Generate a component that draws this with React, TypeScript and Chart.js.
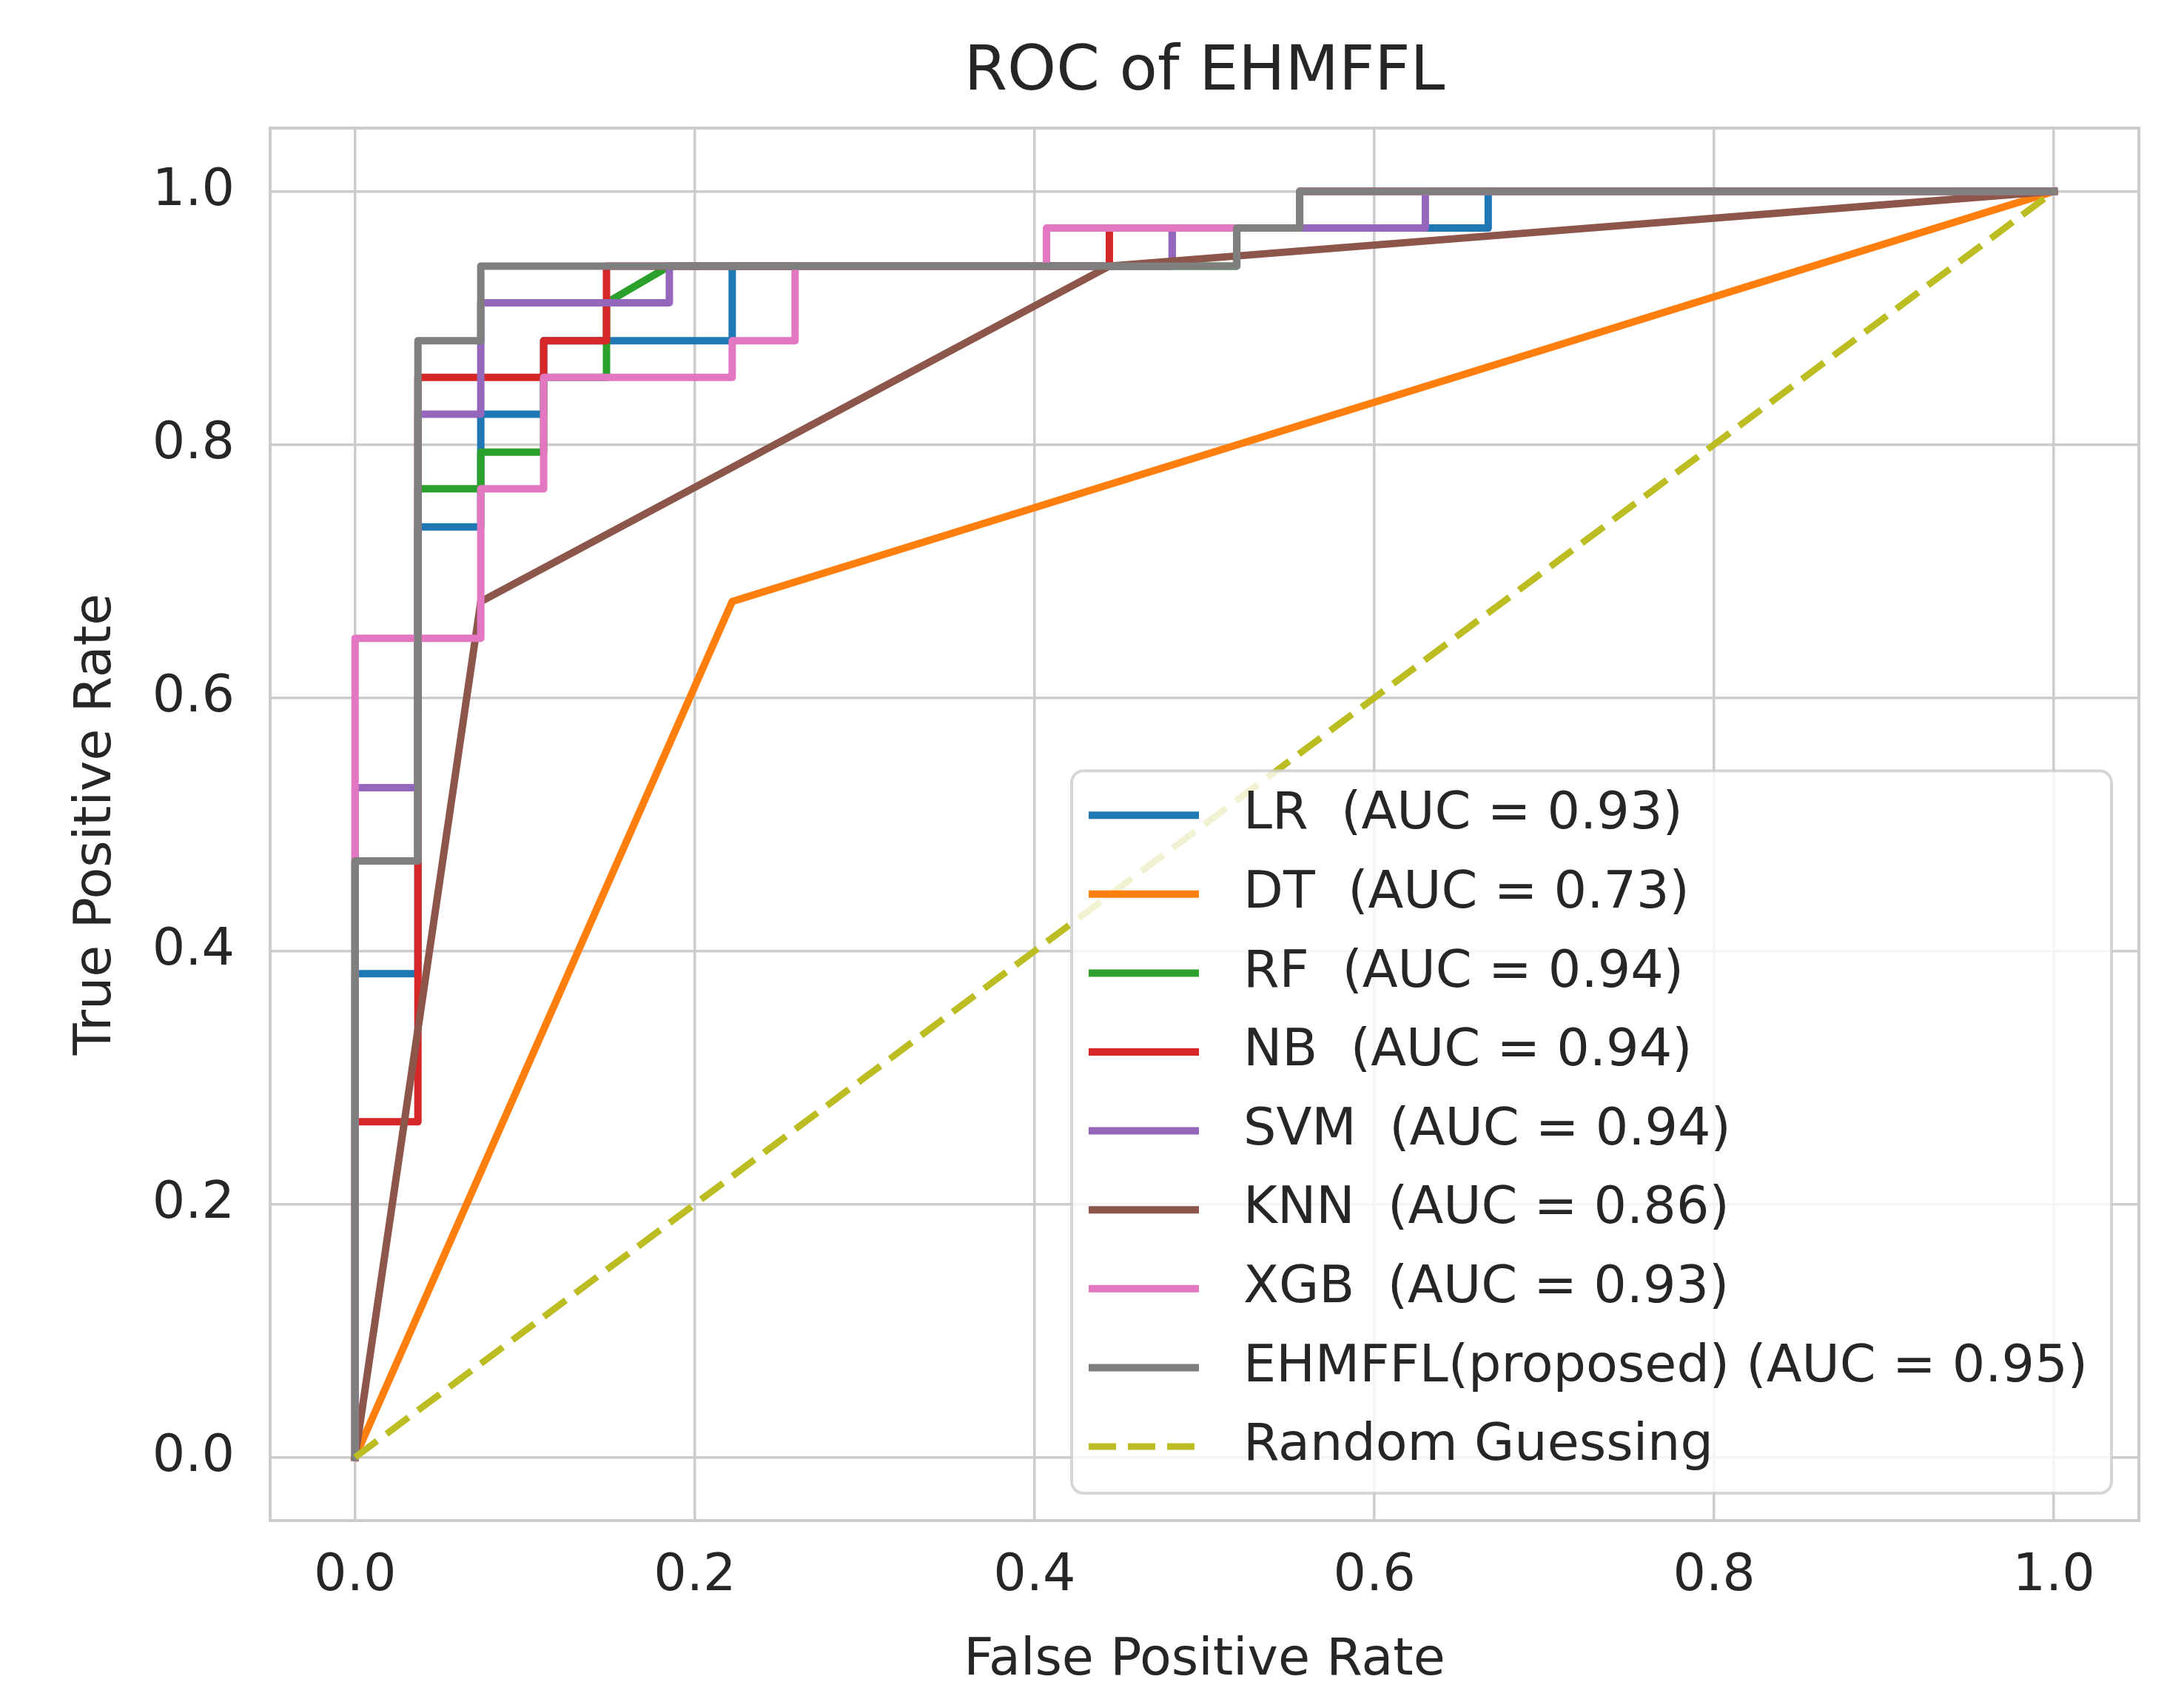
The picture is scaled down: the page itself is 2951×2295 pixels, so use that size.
import { useEffect, useRef } from "react";
import { Chart, registerables } from "chart.js";

Chart.register(...registerables);

// tick labels on both axes
const xTicks = [0, 0.2, 0.4, 0.6, 0.8, 1.0];
const yTicks = [0, 0.2, 0.4, 0.6, 0.8, 1.0];

// ROC points (false positive rate / true positive rate)
const lrFpr = [0, 0, 0.037, 0.037, 0.074, 0.074, 0.111, 0.111, 0.222, 0.222, 0.481, 0.481, 0.667, 0.667, 1.0];
const lrTpr = [0, 0.382, 0.382, 0.735, 0.735, 0.824, 0.824, 0.882, 0.882, 0.941, 0.941, 0.971, 0.971, 1.0, 1.0];

const dtFpr = [0, 0.222, 1.0];
const dtTpr = [0, 0.676, 1.0];

const rfFpr = [0, 0, 0.037, 0.037, 0.074, 0.074, 0.111, 0.111, 0.148, 0.148, 0.185, 0.519, 0.519, 0.556, 0.556, 1.0];
const rfTpr = [0, 0.471, 0.471, 0.765, 0.765, 0.794, 0.794, 0.853, 0.853, 0.912, 0.941, 0.941, 0.971, 0.971, 1.0, 1.0];

const nbFpr = [0, 0, 0.037, 0.037, 0.111, 0.111, 0.148, 0.148, 0.444, 0.444, 0.556, 0.556, 1.0];
const nbTpr = [0, 0.265, 0.265, 0.853, 0.853, 0.882, 0.882, 0.941, 0.941, 0.971, 0.971, 1.0, 1.0];

const svmFpr = [0, 0, 0.037, 0.037, 0.074, 0.074, 0.185, 0.185, 0.481, 0.481, 0.63, 0.63, 1.0];
const svmTpr = [0, 0.529, 0.529, 0.824, 0.824, 0.912, 0.912, 0.941, 0.941, 0.971, 0.971, 1.0, 1.0];

const knnFpr = [0, 0.074, 0.444, 1.0];
const knnTpr = [0, 0.676, 0.941, 1.0];

const xgbFpr = [0, 0, 0.074, 0.074, 0.111, 0.111, 0.222, 0.222, 0.259, 0.259, 0.407, 0.407, 0.556, 0.556, 1.0];
const xgbTpr = [0, 0.647, 0.647, 0.765, 0.765, 0.853, 0.853, 0.882, 0.882, 0.941, 0.941, 0.971, 0.971, 1.0, 1.0];

const ehmFpr = [0, 0, 0.037, 0.037, 0.074, 0.074, 0.519, 0.519, 0.556, 0.556, 1.0];
const ehmTpr = [0, 0.471, 0.471, 0.882, 0.882, 0.941, 0.941, 0.971, 0.971, 1.0, 1.0];

const randFpr = [0, 1.0];
const randTpr = [0, 1.0];

const seriesNames = [
  "LR  (AUC = 0.93)",
  "DT  (AUC = 0.73)",
  "RF  (AUC = 0.94)",
  "NB  (AUC = 0.94)",
  "SVM  (AUC = 0.94)",
  "KNN  (AUC = 0.86)",
  "XGB  (AUC = 0.93)",
  "EHMFFL(proposed) (AUC = 0.95)",
  "Random Guessing",
];
const seriesFpr = [lrFpr, dtFpr, rfFpr, nbFpr, svmFpr, knnFpr, xgbFpr, ehmFpr, randFpr];
const seriesTpr = [lrTpr, dtTpr, rfTpr, nbTpr, svmTpr, knnTpr, xgbTpr, ehmTpr, randTpr];

const colors = ["#1f77b4", "#ff7f0e", "#2ca02c", "#d62728", "#9467bd", "#8c564b", "#e377c2", "#7f7f7f", "#bcbd22"];

const FONT = '"DejaVu Sans", sans-serif';
const TEXT = "#262626";
const GRID = "#cccccc";

// full box around the plot area (matplotlib style spines)
const framePlugin = {
  id: "frame",
  beforeDatasetsDraw(chart: any) {
    const { ctx, chartArea } = chart;
    ctx.save();
    ctx.strokeStyle = GRID;
    ctx.lineWidth = 4;
    ctx.strokeRect(chartArea.left, chartArea.top, chartArea.right - chartArea.left, chartArea.bottom - chartArea.top);
    ctx.restore();
  },
};

// legend in the lower right corner of the plot, drawn over the lines
const legendPlugin = {
  id: "rocLegend",
  afterDraw(chart: any) {
    const { ctx, chartArea } = chart;
    const datasets = chart.data.datasets;
    ctx.save();
    ctx.font = `70px ${FONT}`;
    const maxW = Math.max(...datasets.map((d: any) => ctx.measureText(d.label).width));
    const rowGap = 106.6;
    const width = 232 + maxW + 32;
    const height = 60 + rowGap * (datasets.length - 1) + 63;
    const right = chartArea.right - 37;
    const bottom = chartArea.bottom - 37;
    const left = right - width;
    const top = bottom - height;

    ctx.beginPath();
    ctx.roundRect(left, top, width, height, 16);
    ctx.fillStyle = "rgba(255,255,255,0.8)";
    ctx.fill();
    ctx.lineWidth = 4;
    ctx.strokeStyle = "rgba(204,204,204,0.8)";
    ctx.stroke();

    ctx.textBaseline = "middle";
    ctx.textAlign = "left";
    datasets.forEach((d: any, i: number) => {
      const y = top + 60 + i * rowGap;
      ctx.beginPath();
      ctx.setLineDash(d.borderDash || []);
      ctx.lineWidth = d.borderWidth;
      ctx.strokeStyle = d.borderColor;
      ctx.lineCap = "butt";
      ctx.moveTo(left + 23, y);
      ctx.lineTo(left + 172, y);
      ctx.stroke();
      ctx.setLineDash([]);
      ctx.fillStyle = TEXT;
      ctx.fillText(d.label, left + 232, y);
    });
    ctx.restore();
  },
};

export default function App() {
  const canvasRef = useRef<HTMLCanvasElement>(null);
  const chartRef = useRef<Chart | null>(null);

  useEffect(() => {
    if (!canvasRef.current) return;
    const n = seriesNames.length;
    const datasets = seriesNames.map((name, i) => ({
      label: name,
      data: seriesFpr[i].map((x, j) => ({ x, y: seriesTpr[i][j] })),
      borderColor: colors[i],
      backgroundColor: colors[i],
      borderWidth: i === n - 1 ? 9 : 10,
      borderDash: i === n - 1 ? [37, 16] : [],
      borderJoinStyle: "round" as const,
      borderCapStyle: i === n - 1 ? ("butt" as const) : ("square" as const),
      pointRadius: 0,
      tension: 0,
      fill: false,
      // later series are drawn on top, as in the original
      order: n - i,
    }));

    chartRef.current = new Chart(canvasRef.current, {
      type: "line",
      data: { datasets },
      options: {
        animation: false,
        responsive: true,
        maintainAspectRatio: false,
        devicePixelRatio: 1,
        layout: { padding: { top: 0, right: 61, bottom: 0, left: 0 } },
        plugins: {
          legend: { display: false },
          tooltip: { enabled: false },
          title: {
            display: true,
            fullSize: false,
            text: "ROC of EHMFFL",
            color: TEXT,
            font: { family: FONT, size: 84, weight: "normal" },
            padding: { top: 48.6, bottom: 23.6 },
          },
        },
        scales: {
          x: {
            type: "linear",
            min: -0.05,
            max: 1.05,
            afterBuildTicks: (scale: any) => {
              scale.ticks = xTicks.map((v) => ({ value: v }));
            },
            afterFit: (scale: any) => {
              scale.height = 241;
            },
            grid: { color: GRID, lineWidth: 3.5, drawTicks: false },
            border: { display: false },
            ticks: {
              color: TEXT,
              padding: 34,
              font: { family: FONT, size: 70 },
              callback: (v: any) => Number(v).toFixed(1),
            },
            title: {
              display: true,
              text: "False Positive Rate",
              color: TEXT,
              font: { family: FONT, size: 70 },
              padding: { top: 0, bottom: 9 },
            },
          },
          y: {
            type: "linear",
            min: -0.05,
            max: 1.05,
            afterBuildTicks: (scale: any) => {
              scale.ticks = yTicks.map((v) => ({ value: v }));
            },
            afterFit: (scale: any) => {
              scale.width = 365;
            },
            grid: { color: GRID, lineWidth: 3.5, drawTicks: false },
            border: { display: false },
            ticks: {
              color: TEXT,
              padding: 48,
              font: { family: FONT, size: 70 },
              callback: (v: any) => Number(v).toFixed(1),
            },
            title: {
              display: true,
              text: "True Positive Rate",
              color: TEXT,
              font: { family: FONT, size: 70 },
              padding: { top: 89, bottom: 0 },
            },
          },
        },
      },
      plugins: [framePlugin, legendPlugin],
    } as any);

    return () => {
      if (chartRef.current) {
        chartRef.current.destroy();
        chartRef.current = null;
      }
    };
  }, []);

  return (
    <div
      style={{
        position: "fixed",
        left: 0,
        top: 0,
        width: "2951px",
        height: "2295px",
        background: "#ffffff",
      }}
    >
      <canvas ref={canvasRef} />
    </div>
  );
}
